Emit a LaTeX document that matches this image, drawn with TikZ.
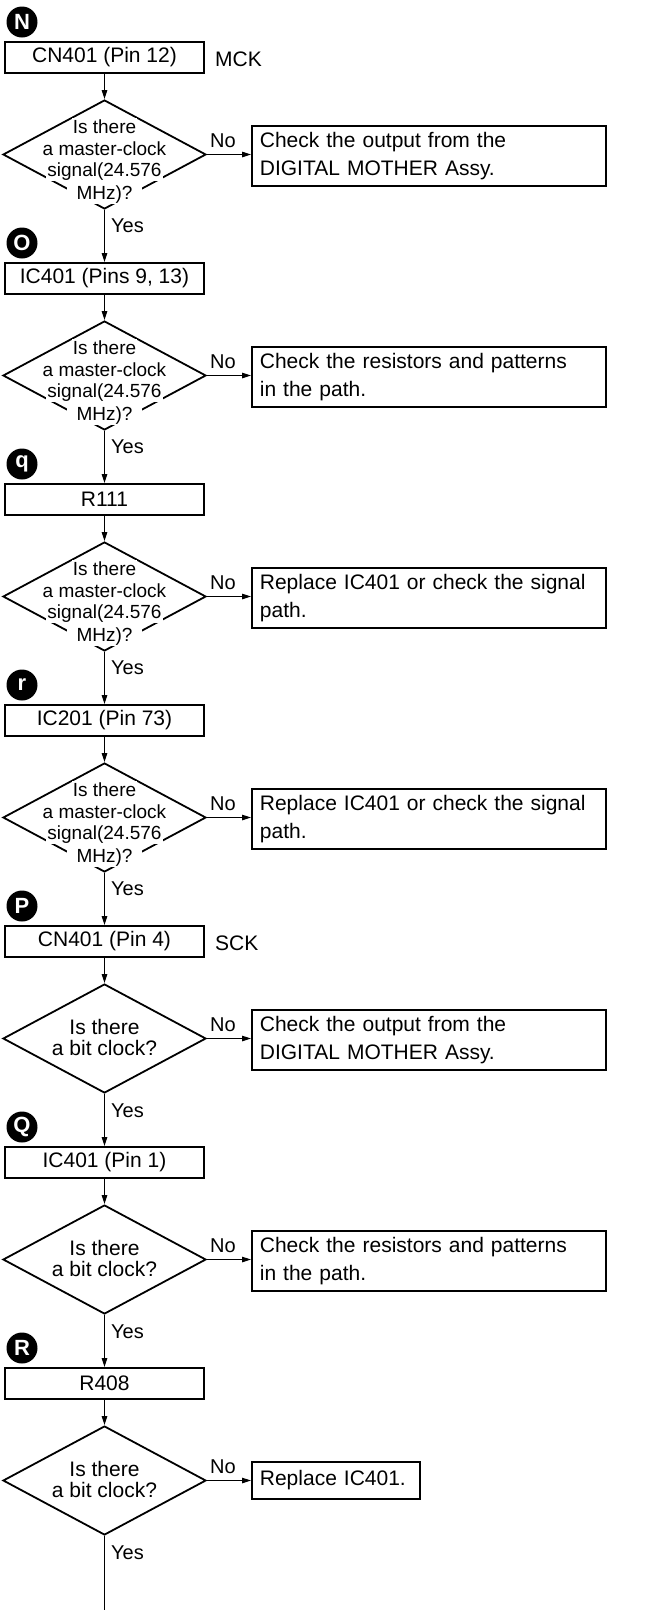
\documentclass[tikz,border=0pt]{standalone}
\usepackage{fontspec}
\setmainfont{Liberation Sans}
\usetikzlibrary{shapes.geometric,arrows.meta}
\tikzset{
  stepbox/.style={draw=black,line width=1.8pt,minimum width=199pt,minimum height=31pt,inner sep=0pt,font=\fontsize{21}{25}\selectfont},
  resbox/.style={draw=black,line width=1.8pt,minimum height=60pt,text width=338pt,align=left,inner xsep=8pt,inner ysep=0pt,font=\fontsize{21}{27.5}\selectfont},
  smallres/.style={resbox,minimum height=37pt,text width=152pt},
  dia/.style={draw=black,shape=diamond,line width=1.8pt,minimum width=203pt,minimum height=109pt,inner sep=0pt},
  mq/.style={anchor=base,fill=white,inner xsep=1pt,inner ysep=1pt,font=\fontsize{19}{22}\selectfont},
  bq/.style={anchor=base,inner sep=0pt,font=\fontsize{21}{21}\selectfont},
  lbl/.style={anchor=base west,inner sep=0pt,font=\fontsize{20}{24}\selectfont},
  side/.style={anchor=base west,inner sep=0pt,font=\fontsize{21}{25}\selectfont},
  badge/.style={circle,fill=black,text=white,minimum size=31pt,inner sep=0pt,font=\fontsize{22}{22}\selectfont\bfseries},
  conn/.style={line width=1.1pt,-{Triangle[length=9pt,width=5.5pt]}},
}
\begin{document}
\begin{tikzpicture}[x=1pt,y=-1pt]
\useasboundingbox (0,0) rectangle (661,1610);
% ---------- block 0 ----------
\node[badge] (l0) at (22,22) {N};
\node[stepbox] (b0) at (104.5,57.5) {CN401 (Pin 12)};
\node[side] (s0) at (215,66.5) {MCK};
\node[dia] (d0) at (104.5,154.5) {};
\node[mq] (d0a) at (104.5,133) {Is there};
\node[mq] (d0b) at (104.5,155) {a master-clock};
\node[mq] (d0c) at (104.5,176) {signal(24.576};
\node[mq,inner xsep=10pt] (d0d) at (104.5,199) {MHz)?};
\node[resbox,anchor=west] (r0) at (251,156) {Check the output from the\\DIGITAL MOTHER Assy.};
\node[lbl] (n0) at (210,147.5) {No};
\node[lbl] (y0) at (111,232) {Yes};
% ---------- block 1 ----------
\node[badge] (l1) at (22,243) {O};
\node[stepbox] (b1) at (104.5,278.5) {IC401 (Pins 9, 13)};
\node[dia] (d1) at (104.5,375.5) {};
\node[mq] (d1a) at (104.5,354) {Is there};
\node[mq] (d1b) at (104.5,376) {a master-clock};
\node[mq] (d1c) at (104.5,397) {signal(24.576};
\node[mq,inner xsep=10pt] (d1d) at (104.5,420) {MHz)?};
\node[resbox,anchor=west] (r1) at (251,377) {Check the resistors and patterns\\in the path.};
\node[lbl] (n1) at (210,368.5) {No};
\node[lbl] (y1) at (111,453) {Yes};
% ---------- block 2 ----------
\node[badge] (l2) at (22,464) {q};
\node[stepbox] (b2) at (104.5,499.5) {R111};
\node[dia] (d2) at (104.5,596.5) {};
\node[mq] (d2a) at (104.5,575) {Is there};
\node[mq] (d2b) at (104.5,597) {a master-clock};
\node[mq] (d2c) at (104.5,618) {signal(24.576};
\node[mq,inner xsep=10pt] (d2d) at (104.5,641) {MHz)?};
\node[resbox,anchor=west] (r2) at (251,598) {Replace IC401 or check the signal\\path.};
\node[lbl] (n2) at (210,589.5) {No};
\node[lbl] (y2) at (111,674) {Yes};
% ---------- block 3 ----------
\node[badge] (l3) at (22,685) {r};
\node[stepbox] (b3) at (104.5,720.5) {IC201 (Pin 73)};
\node[dia] (d3) at (104.5,817.5) {};
\node[mq] (d3a) at (104.5,796) {Is there};
\node[mq] (d3b) at (104.5,818) {a master-clock};
\node[mq] (d3c) at (104.5,839) {signal(24.576};
\node[mq,inner xsep=10pt] (d3d) at (104.5,862) {MHz)?};
\node[resbox,anchor=west] (r3) at (251,819) {Replace IC401 or check the signal\\path.};
\node[lbl] (n3) at (210,810.5) {No};
\node[lbl] (y3) at (111,895) {Yes};
% ---------- block 4 ----------
\node[badge] (l4) at (22,906) {P};
\node[stepbox] (b4) at (104.5,941.5) {CN401 (Pin 4)};
\node[side] (s4) at (215,950.5) {SCK};
\node[dia] (d4) at (104.5,1038.5) {};
\node[bq] (d4a) at (104.5,1034) {Is there};
\node[bq] (d4b) at (104.5,1055) {a bit clock?};
\node[resbox,anchor=west] (r4) at (251,1040) {Check the output from the\\DIGITAL MOTHER Assy.};
\node[lbl] (n4) at (210,1031.5) {No};
\node[lbl] (y4) at (111,1117) {Yes};
% ---------- block 5 ----------
\node[badge] (l5) at (22,1127) {Q};
\node[stepbox] (b5) at (104.5,1162.5) {IC401 (Pin 1)};
\node[dia] (d5) at (104.5,1259.5) {};
\node[bq] (d5a) at (104.5,1255) {Is there};
\node[bq] (d5b) at (104.5,1276) {a bit clock?};
\node[resbox,anchor=west] (r5) at (251,1261) {Check the resistors and patterns\\in the path.};
\node[lbl] (n5) at (210,1252.5) {No};
\node[lbl] (y5) at (111,1338) {Yes};
% ---------- block 6 ----------
\node[badge] (l6) at (22,1348) {R};
\node[stepbox] (b6) at (104.5,1383.5) {R408};
\node[dia] (d6) at (104.5,1480.5) {};
\node[bq] (d6a) at (104.5,1476) {Is there};
\node[bq] (d6b) at (104.5,1497) {a bit clock?};
\node[smallres,anchor=west] (r6) at (251,1480.5) {Replace IC401.};
\node[lbl] (n6) at (210,1473.5) {No};
\node[lbl] (y6) at (111,1559) {Yes};
\coordinate (end) at (104.5,1610);
% ---------- connectors ----------
\foreach \i in {0,...,6}{
  \draw[conn] (b\i.south) -- (d\i.north);
  \draw[conn] (d\i.east) -- (d\i.east -| r\i.west);
}
\foreach \i/\j in {0/1,1/2,2/3,3/4,4/5,5/6}{
  \draw[conn] (d\i.south) -- (b\j.north);
}
\draw[line width=1.1pt] (d6.south) -- (end);
\end{tikzpicture}
\end{document}
